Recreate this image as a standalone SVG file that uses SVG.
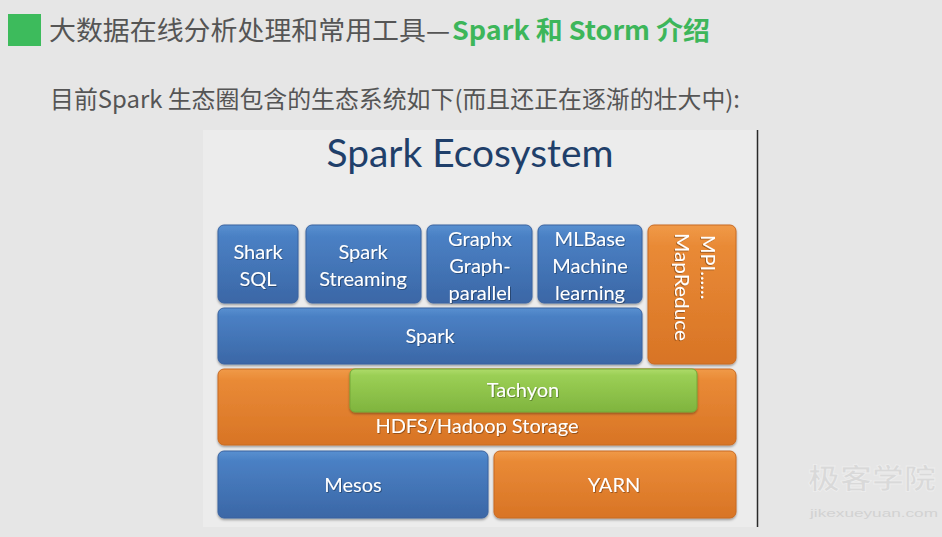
<svg xmlns="http://www.w3.org/2000/svg" width="942" height="537" viewBox="0 0 942 537">
<defs>
<linearGradient id="gBlue" x1="0" y1="0" x2="0" y2="1">
<stop offset="0" stop-color="#5890d0"/><stop offset="0.15" stop-color="#4a80c4"/><stop offset="1" stop-color="#3b67a6"/>
</linearGradient>
<linearGradient id="gOrange" x1="0" y1="0" x2="0" y2="1">
<stop offset="0" stop-color="#f09a48"/><stop offset="0.15" stop-color="#e98a36"/><stop offset="1" stop-color="#d87425"/>
</linearGradient>
<linearGradient id="gGreen" x1="0" y1="0" x2="0" y2="1">
<stop offset="0" stop-color="#aedb6a"/><stop offset="0.15" stop-color="#9bcf55"/><stop offset="1" stop-color="#7fb43e"/>
</linearGradient>
<filter id="sh" x="-5%" y="-5%" width="110%" height="120%">
<feDropShadow dx="0" dy="1.5" stdDeviation="1.2" flood-color="#000" flood-opacity="0.35"/>
</filter>
<filter id="tsh" x="-5%" y="-5%" width="110%" height="130%">
<feDropShadow dx="0.8" dy="0.8" stdDeviation="0.6" flood-color="#000" flood-opacity="0.4"/>
</filter>
</defs>
<style>
.blue{fill:url(#gBlue);stroke:#3a63a0;stroke-width:1;filter:url(#sh)}
.orange{fill:url(#gOrange);stroke:#c86a22;stroke-width:1;filter:url(#sh)}
.green{fill:url(#gGreen);stroke:#74a838;stroke-width:1;filter:url(#sh)}
.lbl{font-family:Lato,"Liberation Sans",sans-serif;font-size:20px;fill:#fff;text-anchor:middle;filter:url(#tsh)}
.cn{font-family:"Noto Sans CJK SC","Noto Sans",sans-serif}
</style>
<rect width="942" height="537" fill="#e6e6e6"/>
<rect x="203" y="130" width="554" height="397" fill="#ececec"/>
<line x1="757.5" y1="130" x2="757.5" y2="527" stroke="#2a2a2a" stroke-width="1.5"/>

<g id="header">
<rect x="8" y="14" width="33" height="32" fill="#3dbb5c"/>
<text x="49" y="40" class="cn" font-size="26" fill="#555" textLength="401" lengthAdjust="spacingAndGlyphs">大数据在线分析处理和常用工具—</text>
<text x="452" y="40" class="cn" font-size="26" font-weight="bold" fill="#3db65a" textLength="258" lengthAdjust="spacingAndGlyphs">Spark 和 Storm 介绍</text>
<text x="50" y="108" class="cn" font-size="24" fill="#555" textLength="690" lengthAdjust="spacingAndGlyphs">目前Spark 生态圈包含的生态系统如下(而且还正在逐渐的壮大中):</text>
</g>

<text id="chart-title" x="470" y="167" font-family="Lato,'Open Sans',sans-serif" font-size="39" fill="#1f3f6a" text-anchor="middle" textLength="287" lengthAdjust="spacingAndGlyphs">Spark Ecosystem</text>

<g id="shark-sql">
<rect class="blue" x="218" y="225" width="80" height="78" rx="6"/>
<text class="lbl" x="258" y="259">Shark</text>
<text class="lbl" x="258" y="286">SQL</text>
</g>
<g id="spark-streaming">
<rect class="blue" x="306" y="225" width="115" height="78" rx="6"/>
<text class="lbl" x="363" y="259">Spark</text>
<text class="lbl" x="363" y="286">Streaming</text>
</g>
<g id="graphx">
<rect class="blue" x="427" y="225" width="105" height="78" rx="6"/>
<text class="lbl" x="480" y="246">Graphx</text>
<text class="lbl" x="480" y="273">Graph-</text>
<text class="lbl" x="480" y="300">parallel</text>
</g>
<g id="mlbase">
<rect class="blue" x="538" y="225" width="104" height="78" rx="6"/>
<text class="lbl" x="590" y="246">MLBase</text>
<text class="lbl" x="590" y="273">Machine</text>
<text class="lbl" x="590" y="300">learning</text>
</g>
<g id="mpi-mapreduce">
<rect class="orange" x="648" y="225" width="88" height="139" rx="6"/>
<text class="lbl" style="text-anchor:start" transform="translate(701,235) rotate(90)">MPI......</text>
<text class="lbl" style="text-anchor:start" transform="translate(675,233) rotate(90)" textLength="108" lengthAdjust="spacingAndGlyphs">MapReduce</text>
</g>
<g id="spark">
<rect class="blue" x="218" y="308" width="424" height="56" rx="6"/>
<text class="lbl" x="430" y="343">Spark</text>
</g>
<g id="hdfs">
<rect class="orange" x="218" y="369" width="518" height="76" rx="6"/>
<text class="lbl" x="477" y="433">HDFS/Hadoop Storage</text>
</g>
<g id="tachyon">
<rect class="green" x="350" y="369" width="347" height="43" rx="5"/>
<text class="lbl" x="523" y="397">Tachyon</text>
</g>
<g id="mesos">
<rect class="blue" x="218" y="451" width="270" height="67" rx="6"/>
<text class="lbl" x="353" y="492">Mesos</text>
</g>
<g id="yarn">
<rect class="orange" x="494" y="451" width="242" height="67" rx="6"/>
<text class="lbl" x="614" y="492">YARN</text>
</g>
<g id="connectors"/>

<g id="watermark">
<text x="808" y="489" font-family="'Noto Sans CJK SC',sans-serif" font-size="28" font-weight="bold" fill="#d9d9d9" stroke="#eeeeee" stroke-width="0.8" textLength="128" lengthAdjust="spacingAndGlyphs">极客学院</text>
<text x="810" y="517" font-family="'Liberation Sans',sans-serif" font-size="11" fill="#d2d2d2" textLength="128" lengthAdjust="spacingAndGlyphs">jikexueyuan.com</text>
</g>
</svg>
